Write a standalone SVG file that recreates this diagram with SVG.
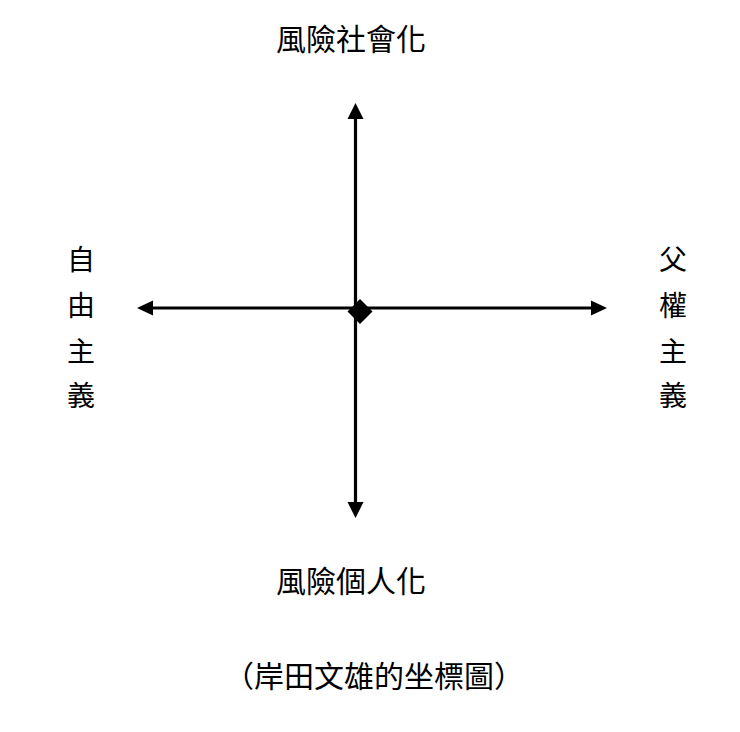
<svg xmlns="http://www.w3.org/2000/svg" width="740" height="732" viewBox="0 0 740 732">
<style>
.t{font-family:"Noto Sans CJK TC","Noto Sans CJK SC",sans-serif;fill:#000;}
.lbl{font-size:30px;text-anchor:middle;}
.v{font-size:28px;text-anchor:middle;}
.ax{stroke:#000;stroke-width:3.2;fill:none;}
.hd{fill:#000;}
</style>
<rect width="740" height="732" fill="#fff"/>
<g id="connectors">
<line class="ax" x1="355.5" y1="117" x2="355.5" y2="505"/>
<polygon class="hd" points="355.5,103 347.5,119 363.5,119"/>
<polygon class="hd" points="355.5,518 347.5,502 363.5,502"/>
<line class="ax" x1="151" y1="308" x2="595" y2="308"/>
<polygon class="hd" points="137,308 153,300.5 153,315.5"/>
<polygon class="hd" points="607,308 591,300.5 591,315.5"/>
</g>
<g id="center">
<polygon class="hd" points="360,299 372.5,311.5 360,324 347.5,311.5"/>
</g>
<g id="top">
<text class="t lbl" x="351" y="50">風險社會化</text>
</g>
<g id="bottom">
<text class="t lbl" x="351" y="592">風險個人化</text>
</g>
<g id="left">
<text class="t v" x="81" y="270">自</text>
<text class="t v" x="81" y="316">由</text>
<text class="t v" x="81" y="362">主</text>
<text class="t v" x="81" y="406">義</text>
</g>
<g id="right">
<text class="t v" x="673" y="270">父</text>
<text class="t v" x="673" y="316">權</text>
<text class="t v" x="673" y="362">主</text>
<text class="t v" x="673" y="406">義</text>
</g>
<g id="caption">
<text class="t lbl" x="374" y="687">（岸田文雄的坐標圖）</text>
</g>
</svg>
